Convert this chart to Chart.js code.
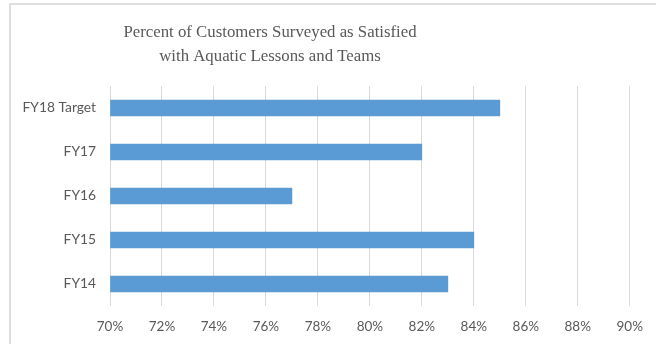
<!DOCTYPE html>
<html>
<head>
<meta charset="utf-8">
<script src="https://cdn.jsdelivr.net/npm/chart.js@4/dist/chart.umd.min.js"></script>
<style>
  html, body { margin: 0; padding: 0; background: #ffffff; }
  #wrap { position: relative; width: 656px; height: 344px; }
  #frame { position: absolute; left: 9px; top: 3px; right: 0; bottom: 0;
           border-left: 2px solid #dedede; border-top: 2px solid #dedede; pointer-events: none; }
  canvas { position: absolute; left: 0; top: 0; }
</style>
</head>
<body>
<div id="wrap">
  <canvas id="chart" width="656" height="344"></canvas>
  <div id="frame"></div>
</div>
<script>
// Fiscal years, top to bottom
const categories = ['FY18 Target', 'FY17', 'FY16', 'FY15', 'FY14'];
// Share of customers surveyed as satisfied (%)
const satisfied = [85, 82, 77, 84, 83];
// Value axis range and step (%)
const axisMin = 70;
const axisMax = 90;
const axisStep = 2;
const titleLines = ['Percent of Customers Surveyed as Satisfied', 'with Aquatic Lessons and Teams'];

const grey = '#595959';

// Centre the title over the left part of the frame
const titleSpan = {
  id: 'titleSpan',
  afterLayout(chart) {
    if (chart.titleBlock) {
      chart.titleBlock.left = 10;
      chart.titleBlock.right = 530;
    }
  }
};

new Chart(document.getElementById('chart'), {
  type: 'bar',
  data: {
    labels: categories,
    datasets: [{
      data: satisfied,
      base: axisMin,
      backgroundColor: '#5b9bd5',
      borderWidth: 0,
      barThickness: 16
    }]
  },
  options: {
    indexAxis: 'y',
    responsive: false,
    animation: false,
    layout: { padding: { left: 0, right: 21, top: 0, bottom: 0 } },
    plugins: {
      legend: { display: false },
      tooltip: { enabled: false },
      title: {
        display: true,
        text: titleLines,
        color: grey,
        font: { family: '"Liberation Serif", "Times New Roman", serif', size: 16.8, weight: 'normal', lineHeight: '23.5px' },
        padding: { top: 21, bottom: 18 }
      }
    },
    scales: {
      x: {
        min: axisMin,
        max: axisMax,
        ticks: {
          stepSize: axisStep,
          color: grey,
          font: { family: 'Lato, "Open Sans", sans-serif', size: 13.5 },
          padding: 13,
          callback: v => v + '%'
        },
        grid: { color: '#d9d9d9', lineWidth: 1, drawTicks: false },
        border: { display: false },
        afterFit(scale) { scale.height = 38; }
      },
      y: {
        ticks: {
          color: grey,
          font: { family: 'Lato, "Open Sans", sans-serif', size: 13.8 },
          padding: 14
        },
        grid: { display: false, drawTicks: false },
        border: { display: false },
        afterFit(scale) { scale.width = 110; }
      }
    }
  },
  plugins: [titleSpan]
});
</script>
</body>
</html>
